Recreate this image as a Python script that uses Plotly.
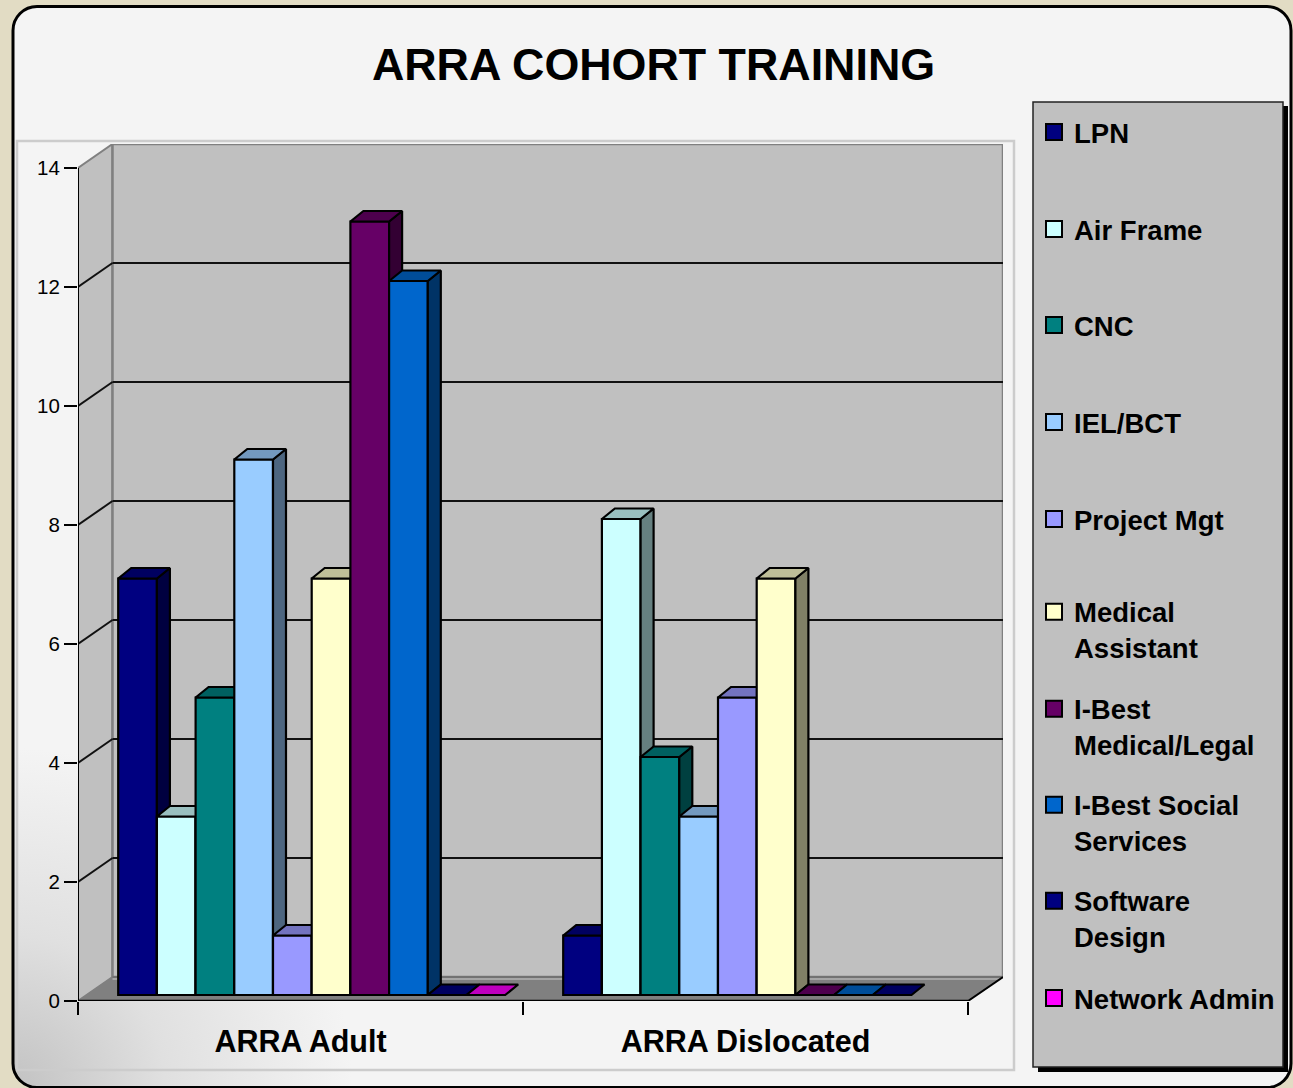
import base64
import plotly.graph_objects as go

W, H = 1293, 1088
FONT = "Liberation Sans"

categories = ["ARRA Adult", "ARRA Dislocated"]
lpn = [7, 1]
air_frame = [3, 8]
cnc = [5, 4]
iel_bct = [9, 3]
project_mgt = [1, 5]
medical_assistant = [7, 7]
ibest_medical_legal = [13, 0]
ibest_social_services = [12, 0]
software_design = [0, 0]
network_admin = [0, None]

series_names = ["LPN", "Air Frame", "CNC", "IEL/BCT", "Project Mgt",
                "Medical<br>Assistant", "I-Best<br>Medical/Legal",
                "I-Best Social<br>Services", "Software<br>Design", "Network Admin"]
series_values = [lpn, air_frame, cnc, iel_bct, project_mgt, medical_assistant,
                 ibest_medical_legal, ibest_social_services, software_design, network_admin]
front_colors = ["#000080", "#CCFFFF", "#008080", "#99CCFF", "#9999FF",
                "#FFFFCC", "#660066", "#0066CC", "#000080", "#FF00FF"]
top_colors = ["#000060", "#99BFBF", "#006060", "#7399BF", "#7373BF",
              "#BFBF99", "#4D004D", "#004D99", "#000060", "#BF00BF"]
side_colors = ["#000040", "#668080", "#004040", "#4D6680", "#4D4D80",
               "#808066", "#330033", "#003366", "#000040", "#800080"]
legend_marker_y = [133, 230, 326, 423, 520, 613, 710, 806, 902, 999]

# pixel scale of the axes
PX_X, PX_Y = 1 / 445, 1 / 59.5
WALL_DX, WALL_DY = 34.5 * PX_X, 24 * PX_Y
BAR_DX, BAR_DY = 13 * PX_X, 10.5 * PX_Y
BAR_W = 38.7 * PX_X
BAR_LEFT = 40.2 * PX_X
BAR_BASE = 6 * PX_Y
X_MAX, Y_MAX = 925 * PX_X, 14 + WALL_DY


def path(points):
    return "M" + " L".join(f"{x:.5f},{y:.5f}" for x, y in points) + " Z"


def seg(x0, y0, x1, y1, color="#111111", width=2):
    return dict(type="line", xref="x", yref="y", x0=x0, y0=y0, x1=x1, y1=y1,
                line=dict(color=color, width=width), layer="below")


def box(x0, y0, x1, y1, fill, line="rgba(0,0,0,0)", width=0):
    return dict(type="rect", xref="paper", yref="paper", x0=x0 / W, x1=x1 / W,
                y0=1 - y0 / H, y1=1 - y1 / H, fillcolor=fill,
                line=dict(color=line, width=width), layer="below")


card_svg = f'''<svg xmlns="http://www.w3.org/2000/svg" width="{W}" height="{H}" viewBox="0 0 {W} {H}">
<defs><radialGradient id="g" gradientUnits="userSpaceOnUse" cx="12" cy="1088" r="340">
<stop offset="0" stop-color="#c2c2c2"/><stop offset="0.45" stop-color="#e0e0e0"/>
<stop offset="1" stop-color="#f4f4f4"/></radialGradient></defs>
<rect x="13" y="6.5" width="1278" height="1081" rx="24" ry="24" fill="url(#g)" stroke="#000" stroke-width="3"/>
</svg>'''
card_uri = "data:image/svg+xml;base64," + base64.b64encode(card_svg.encode()).decode()

fig = go.Figure()

shapes = [
    box(17, 141, 1014, 1070, "rgba(0,0,0,0)", "#cccccc", 2.5),
    box(1038, 106, 1288, 1072, "#000000"),
    box(1033, 102, 1283, 1067, "#C0C0C0", "#222222", 1.5),
    # walls and floor
    dict(type="path", xref="x", yref="y", layer="below", fillcolor="#C0C0C0",
         line=dict(color="#808080", width=2),
         path=path([(0, 14), (WALL_DX, Y_MAX), (WALL_DX, WALL_DY), (0, 0)])),
    dict(type="path", xref="x", yref="y", layer="below", fillcolor="#C0C0C0",
         line=dict(color="#808080", width=2.5),
         path=path([(WALL_DX, WALL_DY), (WALL_DX, Y_MAX), (X_MAX, Y_MAX), (X_MAX, WALL_DY)])),
    dict(type="path", xref="x", yref="y", layer="below", fillcolor="#808080",
         line=dict(color="#808080", width=1),
         path=path([(0, 0), (WALL_DX, WALL_DY), (X_MAX, WALL_DY), (2, 0)])),
    # thin wall ledge along the back of the floor
    seg(WALL_DX, WALL_DY - 2 * PX_Y, X_MAX - 3 * PX_X, WALL_DY - 2 * PX_Y, "#A6A6A6", 2),
    seg(WALL_DX, WALL_DY, X_MAX, WALL_DY, "#6E6E6E", 1.5),
]
for v in range(2, 14, 2):
    shapes.append(seg(0, v, WALL_DX, v + WALL_DY))
    shapes.append(seg(WALL_DX, v + WALL_DY, X_MAX, v + WALL_DY))
shapes += [
    seg(0, 0, 0, 14, "#000000"),
    seg(0, 0, 2, 0, "#000000", 2.5),
    seg(2, 0, X_MAX, WALL_DY, "#000000"),
]

for i, (name, vals) in enumerate(zip(series_names, series_values)):
    xs, tops_x, tops_y, side_x, side_y = [], [], [], [], []
    for c, v in enumerate(vals):
        x0 = c + BAR_LEFT + i * BAR_W
        xs.append(x0 + BAR_W / 2)
        if v is None:
            continue
        h = BAR_BASE + v
        tops_x += [x0, x0 + BAR_W, x0 + BAR_W + BAR_DX, x0 + BAR_DX, x0, None]
        tops_y += [h, h, h + BAR_DY, h + BAR_DY, h, None]
        if v > 0:
            xr = x0 + BAR_W
            side_x += [xr, xr, xr + BAR_DX, xr + BAR_DX, xr, None]
            side_y += [BAR_BASE, h, h + BAR_DY, BAR_BASE + BAR_DY, BAR_BASE, None]
    outline = dict(color="#000000", width=2.2)
    if side_x:
        fig.add_trace(go.Scatter(x=side_x, y=side_y, mode="lines", fill="toself",
                                 fillcolor=side_colors[i], line=outline, zorder=i,
                                 showlegend=False, hoverinfo="skip"))
    fig.add_trace(go.Scatter(x=tops_x, y=tops_y, mode="lines", fill="toself",
                             fillcolor=top_colors[i], line=outline, zorder=i,
                             showlegend=False, hoverinfo="skip"))
    fig.add_trace(go.Bar(x=xs, y=vals, base=BAR_BASE, width=BAR_W, zorder=i,
                         marker=dict(color=front_colors[i], line=outline),
                         name=name.replace("<br>", " "), showlegend=False))
    # legend key: the marker sits on the middle text line, so a blank first line
    # keeps it level with the first word of a two-line name
    legend_id = "legend" if i == 0 else f"legend{i + 1}"
    bold = "<br>".join(f"<b>{part}</b>" for part in name.split("<br>"))
    label = f"&nbsp;<br>{bold}" if "<br>" in name else bold
    fig.add_trace(go.Scatter(x=[None], y=[None], mode="markers", name=label, legend=legend_id,
                             marker=dict(symbol="square", size=16, color=front_colors[i],
                                         line=dict(color="#000000", width=2))))

legends = {}
for i, y in enumerate(legend_marker_y):
    key = "legend" if i == 0 else f"legend{i + 1}"
    legends[key] = dict(x=1034 / W, xanchor="left", y=1 - (y - 1) / H, yanchor="middle",
                        bgcolor="rgba(0,0,0,0)", borderwidth=0, itemclick=False,
                        itemdoubleclick=False,
                        font=dict(family=FONT, size=27.5, color="#000000"))

fig.update_layout(
    width=W, height=H, autosize=False,
    margin=dict(l=0, r=0, t=0, b=0, pad=0, autoexpand=False),
    paper_bgcolor="#E2DCC4", plot_bgcolor="rgba(0,0,0,0)",
    barmode="overlay", font=dict(family=FONT, color="#000000"),
    title=dict(text="<b>ARRA COHORT TRAINING</b>", x=653.5 / W, xanchor="center", xref="paper",
               y=1 - 64 / H, yanchor="middle", yref="paper",
               font=dict(family=FONT, size=44.8, color="#000000")),
    xaxis=dict(domain=[78 / W, 1003 / W], range=[0, X_MAX], tickmode="array",
               tickvals=[0.5, 1.5], ticktext=[f"<b>{c}</b>" for c in categories],
               ticks="", showgrid=False, zeroline=False, showline=False,
               ticklabelstandoff=19, tickfont=dict(family=FONT, size=30.5, color="#000000"),
               minor=dict(tickmode="array", tickvals=[0, 1, 2], ticks="outside", ticklen=13,
                          tickwidth=2, tickcolor="#000000", showgrid=False)),
    yaxis=dict(domain=[1 - 1001 / H, 1 - 144 / H], range=[0, Y_MAX], tickmode="array",
               tickvals=list(range(0, 15, 2)), ticks="outside", ticklen=13, tickwidth=2,
               tickcolor="#000000", showgrid=False, zeroline=False, showline=False,
               tickfont=dict(family=FONT, size=20.5, color="#000000")),
    shapes=shapes,
    images=[dict(source=card_uri, xref="paper", yref="paper", x=0, y=1, sizex=1, sizey=1,
                 xanchor="left", yanchor="top", sizing="stretch", layer="below")],
    **legends,
)

fig.write_html("out.html", config=dict(displayModeBar=False),
               post_script="document.body.style.margin='0';document.body.style.overflow='hidden';"
                           "document.body.style.background='#E2DCC4';")
